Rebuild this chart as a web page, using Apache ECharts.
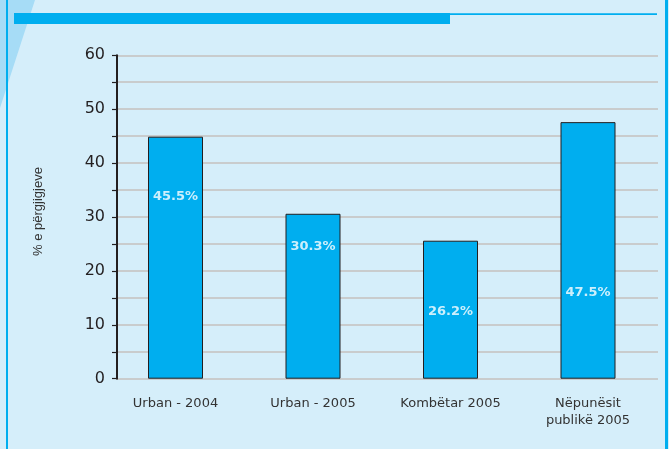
<!DOCTYPE html>
<html>
<head>
<meta charset="utf-8">
<script src="https://cdn.jsdelivr.net/npm/echarts@6/dist/echarts.min.js"></script>
<style>
  html, body { margin: 0; padding: 0; background: #d5eefa; }
  #chart { width: 669px; height: 449px; }
</style>
</head>
<body>
<div id="chart"></div>
<script>
// ---- data ----
const categories = ['Urban - 2004', 'Urban - 2005', 'Kombëtar 2005', 'Nëpunësit\npublikë 2005'];
const barValues = [44.9, 30.6, 25.6, 47.6];          // bar heights as drawn
const pctLabels = [45.5, 30.3, 26.2, 47.5];          // printed percentages
const yTicks = [0, 10, 20, 30, 40, 50, 60];
const yAxisTitle = '% e përgjigjeve';

// ---- layout (not data) ----
const labelAnchorY = [33.7, 24.5, 12.4, 16.0];       // where each printed label sits, in axis units

const chart = echarts.init(document.getElementById('chart'), null, { renderer: 'canvas' });
const BLUE = '#00aeef';
const DARK = '#231f20';

const option = {
  backgroundColor: '#d5eefa',
  animation: false,
  grid: [
    { left: 117, right: 11, top: 55.3, bottom: 70.3 },
    { left: 106.75, width: 550, top: 55.3, bottom: 70.3 }
  ],
  xAxis: [
    { gridIndex: 0, type: 'category', data: categories, show: false },
    {
      gridIndex: 1, type: 'category', data: categories,
      axisLine: { show: false }, axisTick: { show: false },
      axisLabel: {
        margin: 16, color: '#333', fontFamily: 'DejaVu Sans', fontSize: 13, lineHeight: 17, interval: 0
      }
    }
  ],
  yAxis: [
    {
      gridIndex: 0, type: 'value', min: yTicks[0], max: yTicks[yTicks.length - 1], interval: 5,
      axisLine: { show: true, lineStyle: { color: DARK, width: 2 } },
      axisTick: { show: true, length: 5, lineStyle: { color: DARK, width: 1.2 } },
      splitLine: { show: true, lineStyle: { color: '#c9cccd', width: 2 } },
      axisLabel: {
        margin: 12, color: DARK, fontFamily: 'DejaVu Sans', fontSize: 16,
        formatter: v => (yTicks.indexOf(v) >= 0 ? String(v) : '')
      }
    },
    {
      gridIndex: 1, type: 'value', min: yTicks[0], max: yTicks[yTicks.length - 1], show: false
    }
  ],
  graphic: [
    { type: 'polygon', silent: true, z: -10,
      shape: { points: [[0, 0], [35, 0], [22, 40], [0, 108]] }, style: { fill: '#a6dcf6' } },
    { type: 'rect', silent: true, shape: { x: 6, y: 0, width: 2, height: 449 }, style: { fill: BLUE } },
    { type: 'rect', silent: true, shape: { x: 665, y: 0, width: 3, height: 449 }, style: { fill: BLUE } },
    { type: 'rect', silent: true, shape: { x: 14, y: 13, width: 436, height: 11 }, style: { fill: BLUE } },
    { type: 'rect', silent: true, shape: { x: 450, y: 13.3, width: 207, height: 1.6 }, style: { fill: BLUE } },
    { type: 'text', silent: true, x: 38, y: 211.5, rotation: Math.PI / 2,
      style: { text: yAxisTitle, fill: '#333', font: '13px "Liberation Sans"', align: 'center', verticalAlign: 'middle' } }
  ],
  series: [
    {
      type: 'bar', xAxisIndex: 1, yAxisIndex: 1, barWidth: 55,
      data: barValues,
      itemStyle: { color: BLUE, borderColor: DARK, borderWidth: 1 },
      z: 3
    },
    {
      type: 'scatter', xAxisIndex: 1, yAxisIndex: 1, symbolSize: 1,
      itemStyle: { color: 'transparent' },
      data: labelAnchorY.map((y, i) => [i, y]),
      label: {
        show: true, position: 'inside', color: '#ffffff',
        fontFamily: 'DejaVu Sans', fontWeight: 'bold', fontSize: 13,
        formatter: p => pctLabels[p.dataIndex].toFixed(1) + '%'
      },
      z: 5
    }
  ]
};
chart.setOption(option);
</script>
</body>
</html>
